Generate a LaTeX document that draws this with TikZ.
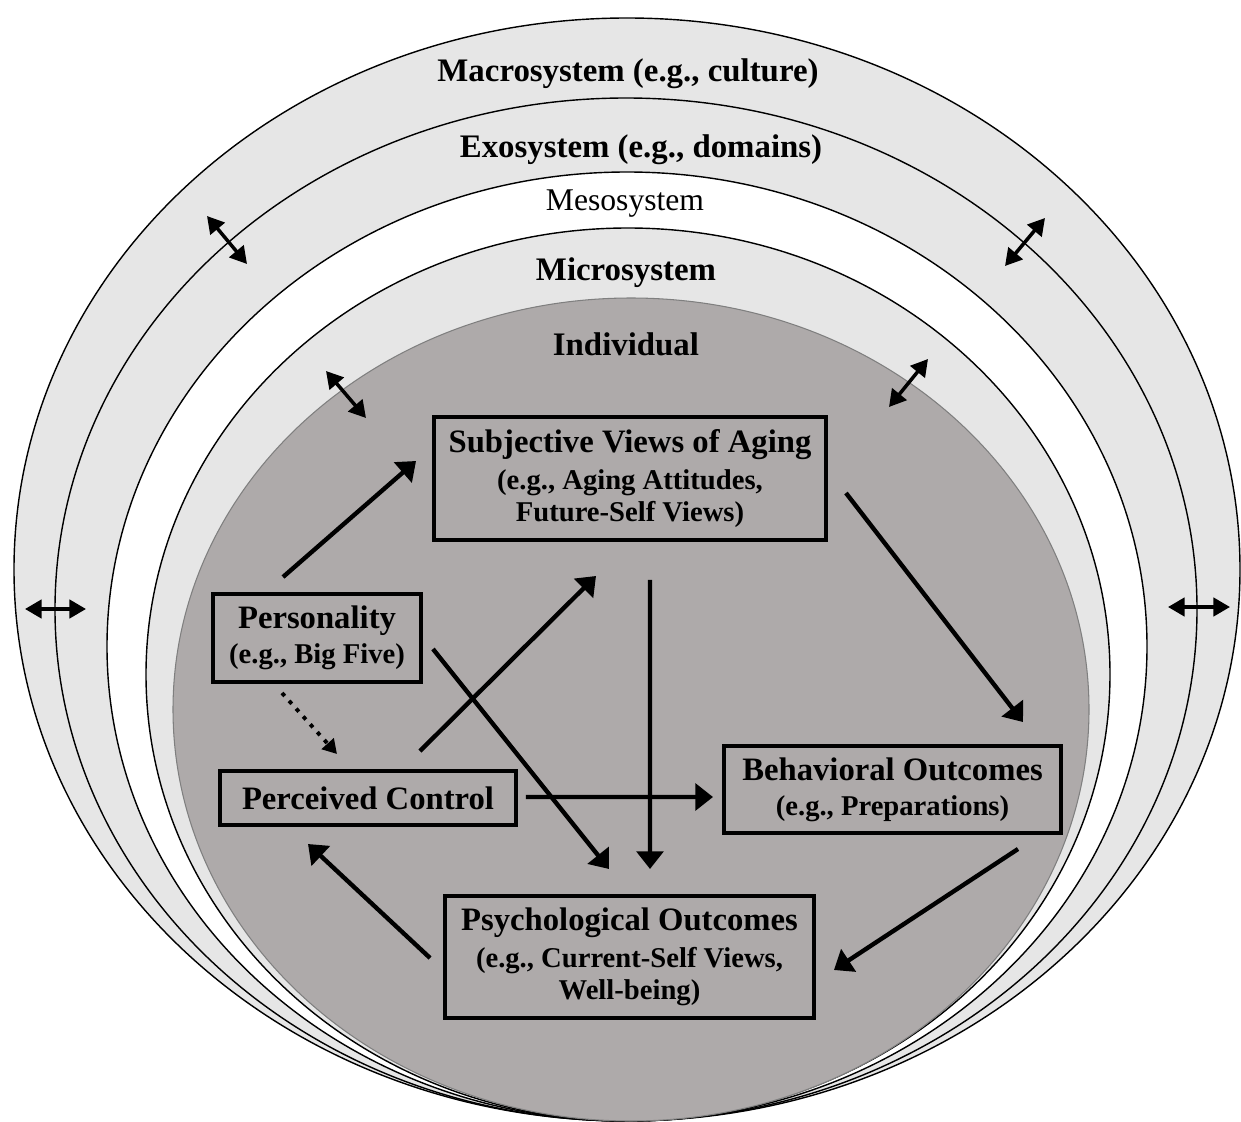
\documentclass[tikz,border=0pt]{standalone}
\usepackage{fontspec}
\setmainfont{Liberation Serif}
\usepackage{xcolor}
\definecolor{Shell}{HTML}{E6E6E6}
\definecolor{Core}{HTML}{AEAAAA}
\definecolor{Rim}{HTML}{7F7F7F}
\usepackage{tikz}
\usetikzlibrary{arrows.meta}

\begin{document}
\begin{tikzpicture}[x=0.02cm,y=-0.02cm,
  ring/.style={draw=black,line width=0.8pt},
  ringlbl/.style={anchor=base,font=\fontsize{18.7}{20}\selectfont\bfseries},
  box/.style={draw=black,line width=2.2pt,outer sep=0pt,inner sep=0pt,align=center,font=\fontsize{16.3}{18}\selectfont\bfseries},
  arr/.style={line width=2.5pt,-{Triangle[length=10pt,width=15pt]}},
  twoway/.style={line width=2pt,{Triangle[length=9.5pt,width=10.5pt]}-{Triangle[length=9.5pt,width=10.5pt]}}]
\useasboundingbox (0,0) rectangle (1241,1122);
\fill[white] (0,0) rectangle (1241,1122);
\draw[ring,fill=Shell] (627,569.5) ellipse [x radius=613,y radius=551.5];
\draw[ring,fill=Shell] (626,609.5) ellipse [x radius=571,y radius=511.5];
\draw[ring,fill=white] (627,646.5) ellipse [x radius=520,y radius=474.5];
\draw[ring,fill=Shell] (628,674.5) ellipse [x radius=482,y radius=446.5];
\draw[draw=Rim,line width=0.6pt,fill=Core] (631,709.5) ellipse [x radius=458,y radius=411.5];
\node[ringlbl] (macro) at (628,82) {Macrosystem (e.g., culture)};
\node[ringlbl] (exo) at (641,157) {Exosystem (e.g., domains)};
\node[ringlbl,font=\fontsize{18}{20}\selectfont] (meso) at (625,211) {Mesosystem};
\node[ringlbl] (micro) at (626,280) {Microsystem};
\node[ringlbl] (indiv) at (626,355) {Individual};
\foreach \n/\xa/\ya/\xb/\yb in {l/25/609/86/609,r/1168/607/1230/607,ul/207/216/247/264,
  ur/1045/218/1005/266,il/326/371/366/418,ir/928/359/889/407}{
  \coordinate (\n-a) at (\xa,\ya);
  \coordinate (\n-b) at (\xb,\yb);
  \draw[twoway] (\n-a) -- (\n-b);
}
\node[box,minimum width=7.84cm,minimum height=2.46cm] (subj) at (630,478.5)
  {{\fontsize{18.6}{20}\selectfont Subjective Views of Aging}\\[3pt](e.g., Aging Attitudes,\\Future-Self Views)};
\node[box,minimum width=4.16cm,minimum height=1.76cm] (pers) at (317,638)
  {{\fontsize{18.6}{20}\selectfont Personality}\\[2pt](e.g., Big Five)};
\node[box,minimum width=5.92cm,minimum height=1.08cm,font=\fontsize{18.6}{20}\selectfont\bfseries] (pc) at (368,798)
  {Perceived Control};
\node[box,minimum width=6.74cm,minimum height=1.74cm] (beh) at (892.5,789.5)
  {{\fontsize{18.6}{20}\selectfont Behavioral Outcomes}\\[2pt](e.g., Preparations)};
\node[box,minimum width=7.38cm,minimum height=2.44cm] (psy) at (629.5,957)
  {{\fontsize{18.6}{20}\selectfont Psychological Outcomes}\\[3pt](e.g., Current-Self Views,\\Well-being)};
\draw[arr] ([shift={(-34,-17)}]pers.north) -- ([shift={(-18,-17.5)}]subj.west);
\draw[arr] ([shift={(52,-20)}]pc.north) -- ([shift={(-34,36)}]subj.south);
\draw[arr] ([shift={(12,11)}]pers.east) -- ([shift={(-20.5,-27)}]psy.north);
\draw[arr] ([shift={(20,40)}]subj.south) -- ([shift={(20.5,-27)}]psy.north);
\draw[arr] ([shift={(20,14.5)}]subj.east) -- ([shift={(130.5,-24)}]beh.north);
\draw[arr] ([shift={(10,-1)}]pc.east) -- ([shift={(-11,7.5)}]beh.west);
\draw[arr] ([shift={(125.5,16)}]beh.south) -- ([shift={(20,13)}]psy.east);
\draw[arr] ([shift={(-15,1)}]psy.west) -- ([shift={(-60,19)}]pc.south);
\draw[line width=2.2pt,dash pattern=on 2.3pt off 3.7pt,-{Triangle[length=8pt,width=9pt]}]
  ([shift={(-35,11)}]pers.south) -- ([shift={(-31,-17)}]pc.north);
\end{tikzpicture}
\end{document}
